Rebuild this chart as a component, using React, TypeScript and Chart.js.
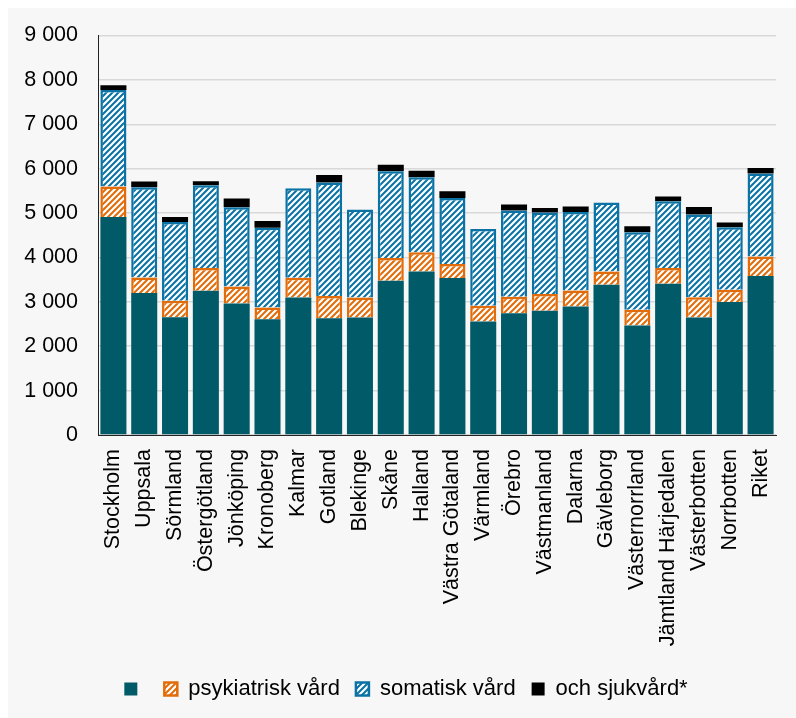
import React, { useEffect, useRef } from "react";
import { Chart, registerables } from "chart.js";

Chart.register(...registerables);

const categories = [
  "Stockholm", "Uppsala", "Sörmland", "Östergötland", "Jönköping", "Kronoberg",
  "Kalmar", "Gotland", "Blekinge", "Skåne", "Halland", "Västra Götaland",
  "Värmland", "Örebro", "Västmanland", "Dalarna", "Gävleborg", "Västernorrland",
  "Jämtland Härjedalen", "Västerbotten", "Norrbotten", "Riket",
];

const baseValues = [
  4910, 3200, 2650, 3250, 2960, 2610,
  3100, 2630, 2645, 3475, 3685, 3535,
  2555, 2745, 2800, 2895, 3385, 2465,
  3405, 2645, 2995, 3580,
];

const psykValues = [
  690, 350, 375, 510, 385, 260,
  440, 500, 450, 510, 430, 315,
  355, 370, 375, 360, 300, 355,
  355, 460, 275, 440,
];

const somatiskValues = [
  2170, 2030, 1775, 1865, 1785, 1800,
  2020, 2560, 1985, 1955, 1690, 1490,
  1730, 1940, 1840, 1770, 1555, 1745,
  1505, 1860, 1410, 1870,
];

const sjukvardValues = [
  110, 130, 110, 90, 200, 150,
  0, 170, 0, 150, 150, 150,
  0, 135, 100, 120, 0, 135,
  110, 170, 110, 125,
];

const seriesLabels = ["", "psykiatrisk vård", "somatisk vård", "och sjukvård*"];
const yTicks = [0, 1000, 2000, 3000, 4000, 5000, 6000, 7000, 8000, 9000];

const TEAL = "#005a68";
const ORANGE = "#e36c0a";
const BLUE = "#0a72a4";
const FONT = "'Liberation Sans', Arial, sans-serif";

function makeHatch(color: string): CanvasPattern | string {
  const size = 6;
  const c = document.createElement("canvas");
  c.width = size;
  c.height = size;
  const ctx = c.getContext("2d");
  if (!ctx) return color;
  ctx.fillStyle = color;
  ctx.fillRect(0, 0, size, size);
  ctx.strokeStyle = "#ffffff";
  ctx.lineWidth = 2.2;
  ctx.beginPath();
  ctx.moveTo(-1, size + 1);
  ctx.lineTo(size + 1, -1);
  ctx.moveTo(-1, 1);
  ctx.lineTo(1, -1);
  ctx.moveTo(size - 1, size + 1);
  ctx.lineTo(size + 1, size - 1);
  ctx.stroke();
  const p = ctx.createPattern(c, "repeat");
  return p || color;
}

function formatThousands(v: number): string {
  return String(v).replace(/\B(?=(\d{3})+(?!\d))/g, " ");
}

export default function App() {
  const canvasRef = useRef<HTMLCanvasElement | null>(null);

  useEffect(() => {
    if (!canvasRef.current) return;
    const orangeHatch = makeHatch(ORANGE);
    const blueHatch = makeHatch(BLUE);
    const common = { barPercentage: 0.845, categoryPercentage: 1 };
    const chart = new Chart(canvasRef.current, {
      type: "bar",
      data: {
        labels: categories,
        datasets: [
          {
            label: seriesLabels[0],
            data: baseValues,
            backgroundColor: TEAL,
            borderWidth: 0,
            ...common,
          },
          {
            label: seriesLabels[1],
            data: psykValues,
            backgroundColor: orangeHatch as any,
            borderColor: ORANGE,
            borderWidth: 2.5,
            ...common,
          },
          {
            label: seriesLabels[2],
            data: somatiskValues,
            backgroundColor: blueHatch as any,
            borderColor: BLUE,
            borderWidth: 2.5,
            ...common,
          },
          {
            label: seriesLabels[3],
            data: sjukvardValues,
            backgroundColor: "#000000",
            borderWidth: 0,
            ...common,
          },
        ],
      },
      options: {
        responsive: true,
        maintainAspectRatio: false,
        animation: false,
        layout: { padding: { top: 27.5, right: 2, left: 10, bottom: 8 } },
        plugins: {
          tooltip: { enabled: false },
          legend: {
            position: "bottom",
            labels: {
              boxWidth: 13,
              boxHeight: 13,
              padding: 16,
              color: "#000000",
              font: { family: FONT, size: 22 },
            },
          },
        },
        scales: {
          x: {
            stacked: true,
            grid: { display: false, drawTicks: false },
            border: { display: true, color: "#222222", width: 1 },
            ticks: {
              autoSkip: false,
              maxRotation: 90,
              minRotation: 90,
              padding: 14,
              color: "#000000",
              font: { family: FONT, size: 21.5 },
            },
            afterFit: (scale: any) => {
              scale.height = 227;
              scale.paddingLeft = 0;
              scale.paddingRight = 20;
              scale.paddingTop = 0;
              scale.paddingBottom = 0;
            },
          },
          y: {
            stacked: true,
            min: 0,
            max: 9000,
            afterBuildTicks: (scale: any) => {
              scale.ticks = yTicks.map((v) => ({ value: v }));
            },
            afterFit: (scale: any) => {
              scale.width = 80;
              scale.paddingTop = 0;
              scale.paddingBottom = 0;
              scale.paddingLeft = 0;
              scale.paddingRight = 0;
            },
            grid: {
              color: "#d9d9d9",
              lineWidth: 1.5,
              drawTicks: false,
            },
            border: { display: true, color: "#222222", width: 1 },
            ticks: {
              padding: 20,
              color: "#000000",
              font: { family: FONT, size: 21.5 },
              callback: (v: any) => formatThousands(Number(v)),
            },
          },
        },
      },
    });
    return () => chart.destroy();
  }, []);

  return (
    <div
      style={{
        position: "fixed",
        left: 8,
        top: 8,
        width: 788,
        height: 710,
        background: "#f7f7f7",
      }}
    >
      <canvas ref={canvasRef} />
    </div>
  );
}
